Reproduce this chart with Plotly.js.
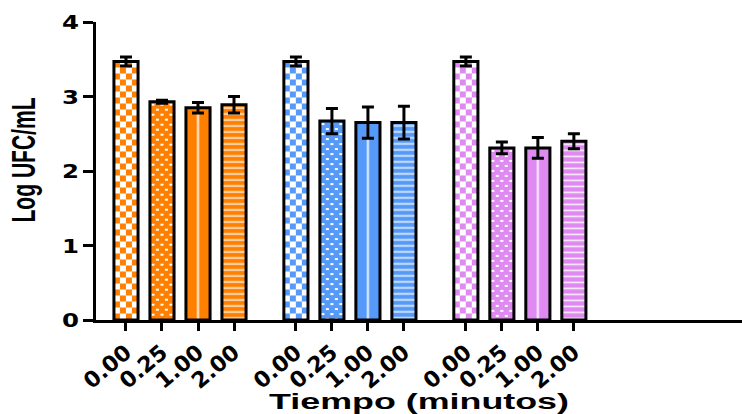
<!DOCTYPE html>
<html>
<head>
<meta charset="utf-8">
<script src="https://cdn.plot.ly/plotly-3.0.1.min.js"></script>
<style>html,body{margin:0;padding:0;background:#fff;}#chart{width:742px;height:414px;}</style>
</head>
<body>
<div id="chart"></div>
<script>
// ---- data ----
const timeLabels = ["0.00", "0.25", "1.00", "2.00"];
const groupColors = ["#FF8000", "#559AF8", "#DE8AF0"];
const orangeMeans = [3.47, 2.93, 2.85, 2.89];
const orangeErr   = [0.06, 0.02, 0.07, 0.11];
const blueMeans   = [3.47, 2.67, 2.65, 2.65];
const blueErr     = [0.06, 0.17, 0.21, 0.22];
const purpleMeans = [3.47, 2.31, 2.31, 2.40];
const purpleErr   = [0.06, 0.08, 0.14, 0.10];
const barPatterns = ["checker", "dots", "centerline", "stripes"];

const groups = [
  {means: orangeMeans, err: orangeErr, color: groupColors[0]},
  {means: blueMeans, err: blueErr, color: groupColors[1]},
  {means: purpleMeans, err: purpleErr, color: groupColors[2]}
];

// ---- layout helpers ----
const groupStep = 4.72;
const barW = 0.67;
const tickVals = [], tickText = [];
const traces = groups.map((g, gi) => {
  const xs = g.means.map((_, i) => gi * groupStep + i);
  xs.forEach((x, i) => { tickVals.push(x); tickText.push(timeLabels[i]); });
  return {
    type: 'bar',
    x: xs,
    y: g.means,
    width: barW,
    marker: {color: g.color, line: {color: 'black', width: 3}},
    error_y: {type: 'data', array: g.err, visible: true, color: 'black', thickness: 3, width: 6},
    hoverinfo: 'none'
  };
});

const layout = {
  width: 742, height: 414,
  margin: {l: 96, r: 0, t: 22, b: 94},
  paper_bgcolor: 'white', plot_bgcolor: 'white',
  showlegend: false,
  barmode: 'overlay',
  xaxis: {
    range: [-0.833, 17.11],
    tickmode: 'array', tickvals: tickVals, ticktext: tickText,
    tickangle: -40,
    showline: true, linewidth: 3, linecolor: 'black',
    ticks: 'outside', ticklen: 8, tickwidth: 3, tickcolor: 'black',
    showgrid: false, zeroline: false,
    tickfont: {family: 'DejaVu Sans', size: 22, weight: 'bold', color: 'black'},
    title: {text: 'Tiempo (minutos)', font: {family: 'Liberation Sans', size: 22, weight: 'bold', color: 'black'}, standoff: 3}
  },
  yaxis: {
    range: [0, 4],
    tickmode: 'array', tickvals: [0, 1, 2, 3, 4],
    showline: true, linewidth: 3, linecolor: 'black',
    ticks: 'outside', ticklen: 10, tickwidth: 3, tickcolor: 'black',
    showgrid: false, zeroline: false,
    tickfont: {family: 'DejaVu Sans', size: 20, weight: 'bold', color: 'black'},
    title: {text: 'Log UFC/mL', font: {family: 'Liberation Sans', size: 24, weight: 'bold', color: 'black'}, standoff: 26}
  }
};

const NS = 'http://www.w3.org/2000/svg';
function el(tag, attrs) {
  const e = document.createElementNS(NS, tag);
  for (const k in attrs) e.setAttribute(k, attrs[k]);
  return e;
}
function applyPatterns(gd) {
  const svg = gd.querySelector('.main-svg');
  let defs = svg.querySelector('defs');
  if (!defs) { defs = el('defs', {}); svg.insertBefore(defs, svg.firstChild); }
  gd.querySelectorAll('.barlayer .trace').forEach((tr, gi) => {
    const color = groupColors[gi];
    tr.querySelectorAll('.point path').forEach((p, i) => {
      const kind = barPatterns[i];
      const bb = p.getBBox();
      const id = 'custpat_' + gi + '_' + i;
      let pat;
      if (kind === 'checker') {
        pat = el('pattern', {id, patternUnits: 'userSpaceOnUse', x: bb.x, y: bb.y, width: 12, height: 12});
        pat.appendChild(el('rect', {x: 0, y: 0, width: 12, height: 12, fill: 'white'}));
        pat.appendChild(el('rect', {x: 0, y: 0, width: 6, height: 6, fill: color}));
        pat.appendChild(el('rect', {x: 6, y: 6, width: 6, height: 6, fill: color}));
      } else if (kind === 'dots') {
        pat = el('pattern', {id, patternUnits: 'userSpaceOnUse', x: bb.x, y: bb.y, width: 9, height: 10});
        pat.appendChild(el('rect', {x: 0, y: 0, width: 9, height: 10, fill: color}));
        pat.appendChild(el('rect', {x: 1.5, y: 2, width: 3, height: 2, fill: 'white'}));
        pat.appendChild(el('rect', {x: 6, y: 7, width: 3, height: 2, fill: 'white'}));
      } else if (kind === 'centerline') {
        pat = el('pattern', {id, patternUnits: 'userSpaceOnUse', x: bb.x, y: bb.y, width: bb.width, height: 10});
        pat.appendChild(el('rect', {x: 0, y: 0, width: bb.width, height: 10, fill: color}));
        pat.appendChild(el('rect', {x: bb.width / 2 - 1, y: 0, width: 2, height: 10, fill: 'white', 'fill-opacity': 0.9}));
      } else {
        pat = el('pattern', {id, patternUnits: 'userSpaceOnUse', x: bb.x, y: bb.y, width: 10, height: 6});
        pat.appendChild(el('rect', {x: 0, y: 0, width: 10, height: 6, fill: color}));
        pat.appendChild(el('rect', {x: 0, y: 2.5, width: 10, height: 1.6, fill: 'white', 'fill-opacity': 0.85}));
      }
      defs.appendChild(pat);
      p.style.fill = 'url(#' + id + ')';
    });
  });
  const xt = gd.querySelector('.g-xtitle text');
  if (xt) {
    xt.setAttribute('textLength', 300); xt.setAttribute('lengthAdjust', 'spacingAndGlyphs');
  }
  const yt = gd.querySelector('.g-ytitle text');
  if (yt) {
    yt.setAttribute('textLength', 125); yt.setAttribute('lengthAdjust', 'spacingAndGlyphs');
    const cx = parseFloat(yt.getAttribute('x')), cy = parseFloat(yt.getAttribute('y'));
    const old = yt.getAttribute('transform') || '';
    yt.setAttribute('transform', 'translate(' + (cx + 3) + ',' + (cy - 11) + ') scale(1.35,1) translate(' + (-cx) + ',' + (-cy) + ') ' + old);
  }
  gd.querySelectorAll('.yaxislayer-above .ytick text').forEach(t => {
    t.setAttribute('textLength', 17); t.setAttribute('lengthAdjust', 'spacingAndGlyphs');
  });
}

Plotly.newPlot('chart', traces, layout, {staticPlot: true, displayModeBar: false}).then(applyPatterns);
</script>
</body>
</html>
